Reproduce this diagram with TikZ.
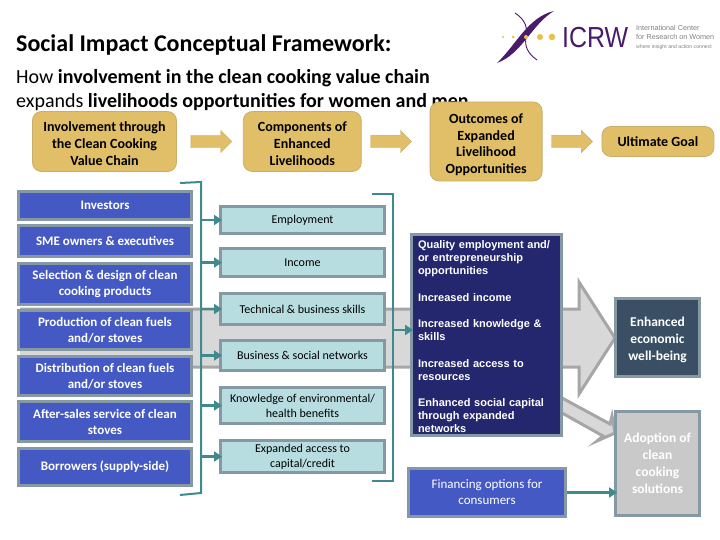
\documentclass[tikz,border=0pt]{standalone}
\usepackage{fontspec}
\setmainfont{Carlito}
\newfontfamily\arialfont{Liberation Sans}
\usepackage{xcolor}
\usetikzlibrary{arrows.meta,positioning,shapes.arrows}
\definecolor{goldfill}{HTML}{E0BF68}
\definecolor{golddraw}{HTML}{C9AE6A}
\definecolor{bluefill}{HTML}{4459C4}
\definecolor{edgegray}{HTML}{8499A4}
\definecolor{tealfill}{HTML}{B8DDE1}
\definecolor{navyfill}{HTML}{25276E}
\definecolor{slatefill}{HTML}{3A4F63}
\definecolor{linkteal}{HTML}{3F8A8E}
\definecolor{bandfill}{HTML}{D8D8D8}
\definecolor{banddraw}{HTML}{A6A6A6}
\definecolor{adoptfill}{HTML}{C9C9C9}
\definecolor{logopurple}{HTML}{4A1A6B}
\definecolor{logogold}{HTML}{E8C04A}
\begin{document}
\begin{tikzpicture}[
      x=1pt, y=-1pt,
      goal/.style={
        draw=golddraw, fill=goldfill, rounded corners=9pt, align=center,
        line width=0.8pt, inner sep=0pt, minimum height=60pt,
        font=\fontsize{14}{16.6}\selectfont\bfseries
      },
      goldarrow/.style={
        single arrow, draw=golddraw, fill=goldfill, inner sep=0pt, outer sep=0pt,
        minimum height=41pt, minimum width=22pt, single arrow head extend=5pt
      },
      actor/.style={
        draw=edgegray, fill=bluefill, text=white, align=center, line width=3pt,
        inner sep=0pt, minimum width=173pt,
        font=\fontsize{13}{16}\selectfont\bfseries
      },
      part/.style={
        draw=edgegray, fill=tealfill, align=center, line width=3pt,
        inner sep=0pt, minimum width=164pt,
        font=\fontsize{12}{15}\selectfont
      },
      result/.style={
        draw=edgegray, align=center, line width=3pt, inner sep=0pt,
        minimum width=84pt, text=white,
        font=\fontsize{13.5}{17}\selectfont\bfseries
      },
      band/.style={fill=bandfill, draw=banddraw, line width=3pt, line join=miter},
      bracket/.style={draw=linkteal, line width=2pt},
      link/.style={draw=linkteal, line width=2.6pt, -{Triangle[length=8pt,width=10pt]}, shorten >=-3pt}
    ]
    \useasboundingbox (0,0) rectangle (720,540);

    % heading
    \node[anchor=west, inner sep=0pt, font=\fontsize{24}{28}\selectfont\bfseries] (title) at (16,45) {Social Impact Conceptual Framework:};
    \node[anchor=west, inner sep=0pt, font=\fontsize{20}{24}\selectfont] (subone) at (16,78) {How \textbf{involvement in the clean cooking value chain}};
    \node[anchor=west, inner sep=0pt, font=\fontsize{20}{24}\selectfont] (subtwo) at (16,102) {expands \textbf{livelihoods opportunities for women and men}};

    % logo
    \fill[logopurple] (554,11) .. controls (528,17) and (516,45) .. (497,63) .. controls (522,54) and (532,24) .. cycle;
    \draw[logopurple, line width=0.9pt] (515,13) .. controls (540,30) and (512,42) .. (537,60);
    \foreach \dotx/\dotr in {503/1.2, 513/1.5, 526/2, 540/3, 552/3.3}
      \fill[logogold] (\dotx,37) circle (\dotr pt);
    \node[anchor=west, inner sep=0pt, xscale=0.86, text=logopurple, font=\arialfont\fontsize{29}{30}\selectfont] (icrw) at (562,37.5) {ICRW};
    \node[anchor=west, inner sep=0pt, align=left, text=gray, font=\arialfont\fontsize{7.2}{9}\selectfont] (icrwname) at (636,37.5) {International Center\\for Research on Women\\\fontsize{5.2}{9}\selectfont where insight and action connect};

    % grey arrows behind the boxes
    \draw[band] (20,309) -- (579,309) -- (579,282) -- (615,338) -- (579,394) -- (579,367) -- (20,367);
    \draw[band] (562,398) -- (610,424) -- (612,416) -- (615,433) -- (597,441) -- (603,436) -- (562,413);

    % column heads
    \node[goal, minimum width=144pt] (involvement) at (104.5,141.5) {\rule{0pt}{14pt}Involvement through\\the Clean Cooking\\Value Chain};
    \node[goldarrow, right=14pt of involvement] (headone) {\rule{0pt}{12pt}};
    \node[goal, minimum width=118pt, right=11pt of headone] (components) {\rule{0pt}{14pt}Components of\\Enhanced\\Livelihoods};
    \node[goldarrow, right=9pt of components] (headtwo) {\rule{0pt}{12pt}};
    \node[goal, minimum width=112pt, minimum height=79pt, right=18pt of headtwo] (outcomes) {\rule{0pt}{16pt}Outcomes of\\Expanded\\Livelihood\\Opportunities};
    \node[goldarrow, right=9pt of outcomes] (headthree) {\rule{0pt}{12pt}};
    \node[goal, minimum width=112pt, minimum height=30pt, right=9pt of headthree] (ultimate) {Ultimate Goal};

    % value chain
    \node[actor, minimum height=28pt] (investors) at (105,205.5) {Investors};
    \node[actor, minimum height=31pt, below=3pt of investors] (sme) {SME owners \& executives};
    \node[actor, minimum height=41pt, below=4pt of sme] (selection) {Selection \& design of clean\\cooking products};
    \node[actor, minimum height=39pt, below=3pt of selection] (production) {Production of clean fuels\\and/or stoves};
    \node[actor, minimum height=39pt, below=4pt of production] (distribution) {Distribution of clean fuels\\and/or stoves};
    \node[actor, minimum height=40pt, below=3pt of distribution] (aftersales) {After-sales service of clean\\stoves};
    \node[actor, minimum height=37pt, below=4pt of aftersales] (borrowers) {Borrowers (supply-side)};

    % livelihood components
    \node[part, minimum height=27pt] (employment) at (302.5,220) {Employment};
    \node[part, minimum height=28pt, below=12pt of employment] (income) {Income};
    \node[part, minimum height=31pt, below=14pt of income] (skills) {Technical \& business skills};
    \node[part, minimum height=30pt, below=13pt of skills] (networks) {Business \& social networks};
    \node[part, minimum height=36pt, below=14pt of networks] (knowledge) {Knowledge of environmental/\\health benefits};
    \node[part, minimum height=32pt, below=14pt of knowledge] (access) {Expanded access to\\capital/credit};

    % outcomes
    \node[draw=edgegray, fill=navyfill, text=white, line width=3pt, inner sep=0pt, minimum width=150pt, minimum height=201pt,
      align=left, text width=137pt, font=\arialfont\fontsize{11}{13}\selectfont\bfseries] (livelihood) at (486.5,335)
      {\rule{0pt}{12pt}Quality employment and/\\or entrepreneurship\\opportunities\\[14pt]Increased income\\[13pt]Increased knowledge \&\\skills\\[14pt]Increased access to\\resources\\[13pt]Enhanced social capital\\through expanded\\networks};
    \node[actor, minimum width=157pt, minimum height=48pt, font=\fontsize{13}{16}\selectfont] (financing) at (487,492.5) {Financing options for\\consumers};

    % goals
    \node[result, fill=slatefill, minimum height=78pt] (wellbeing) at (657.5,337.5) {\rule{0pt}{14pt}Enhanced\\economic\\well-being};
    \node[result, fill=adoptfill, minimum height=104pt] (adoption) at (657.5,463.5) {Adoption of\\clean\\cooking\\solutions};

    % brackets
    \coordinate (bktltop) at (201,182);
    \coordinate (bktlend) at (201,493);
    \coordinate (bktrtop) at (393,194);
    \coordinate (bktrend) at (393,481);
    \coordinate (bktrmid) at (393,330);
    \draw[bracket] (180,183) -- (bktltop) -- (bktlend) -- (180,495);
    \draw[bracket] (372,194) -- (bktrtop) -- (bktrend) -- (372,481);

    \draw[link] (bktltop |- employment) -- (employment.west);
    \draw[link] (bktltop |- income) -- (income.west);
    \draw[link] (bktltop |- skills) -- (skills.west);
    \draw[link] (bktltop |- networks) -- (networks.west);
    \draw[link] (bktltop |- knowledge) -- (knowledge.west);
    \draw[link] (bktltop |- access) -- (access.west);
    \draw[link] (bktrmid) -- (bktrmid -| livelihood.west);
    \draw[link] (financing) -- (financing -| adoption.west);
  \end{tikzpicture}
\end{document}
